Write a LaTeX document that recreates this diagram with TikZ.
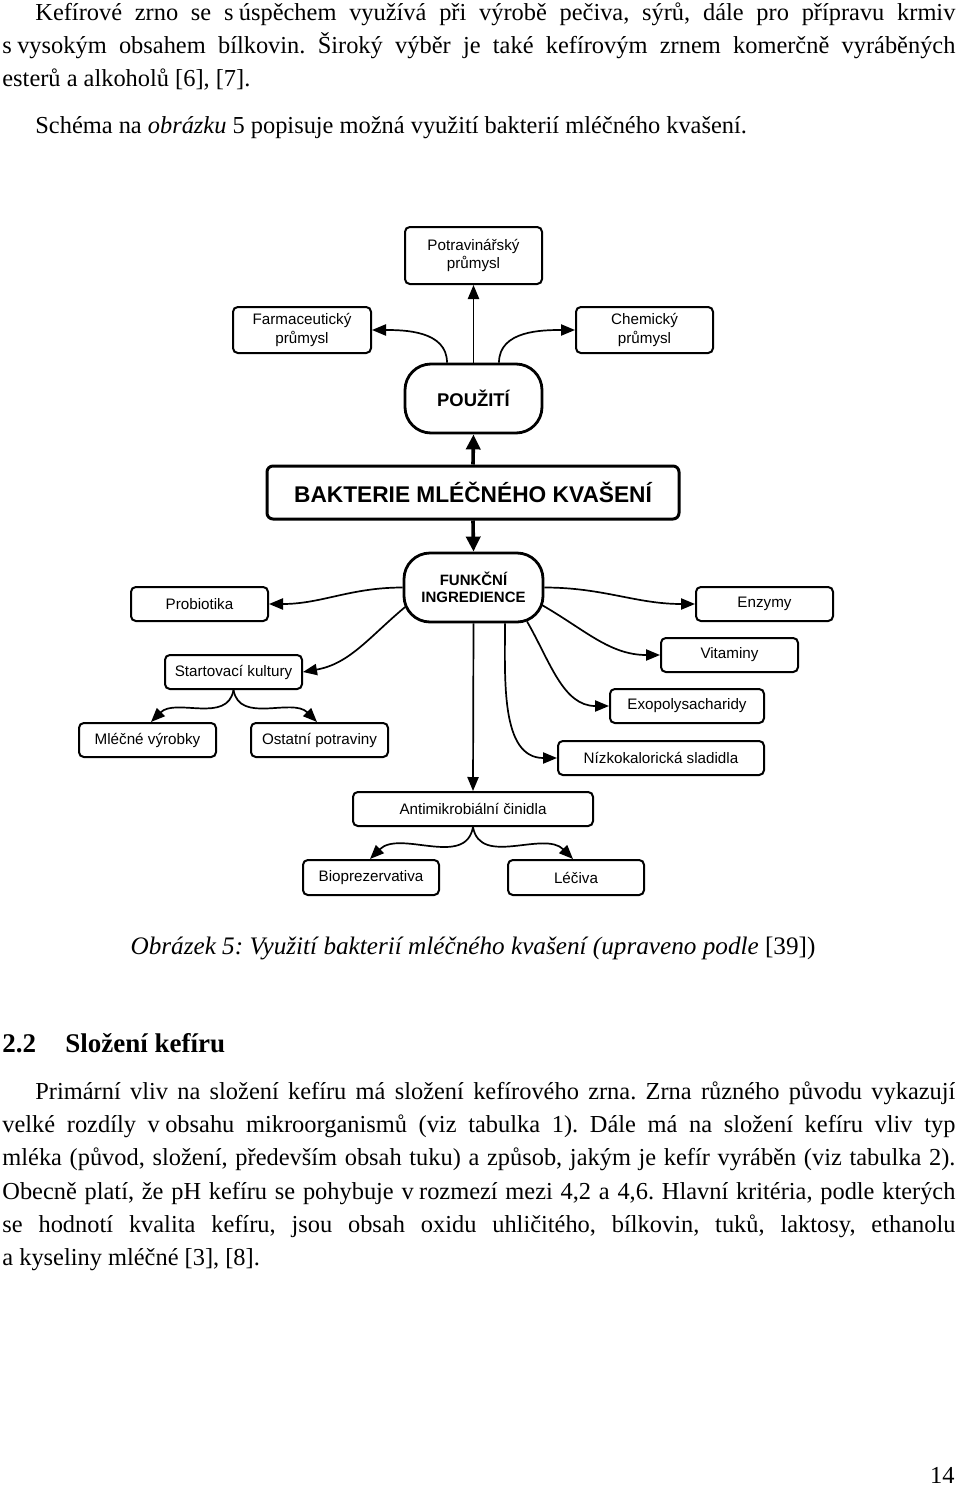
\documentclass[tikz,border=0pt]{standalone}
\usepackage{fontspec}
\setmainfont{Liberation Serif}
\newfontfamily\diagfont{Liberation Sans}
\usetikzlibrary{arrows.meta,calc}
\frenchspacing
\newsavebox\jbox
\newcommand\jline[2]{\sbox\jbox{#2}\ifdim\wd\jbox>#1\relax\resizebox{#1}{\height}{\usebox\jbox}\else\makebox[#1][s]{#2}\fi}
\begin{document}
\begin{tikzpicture}[x=0.5pt,y=-0.5pt,
  box/.style={draw, line width=1pt, rounded corners=2.4pt, align=center, inner sep=0pt,
    minimum height=17pt, font=\diagfont\fontsize{7.6}{9.3}\selectfont},
  stad/.style={draw, line width=1.4pt, rounded corners=13pt, align=center, inner sep=0pt,
    minimum width=68.5pt, minimum height=34.5pt},
  conn/.style={line width=0.85pt, -{Triangle[length=7pt,width=5.6pt]}},
  thickconn/.style={line width=1.8pt, -{Triangle[length=7.5pt,width=7pt]}},
  txt/.style={anchor=base west, inner sep=0pt, font=\fontsize{12.2}{14}\selectfont},
  headtxt/.style={anchor=base west, inner sep=0pt, font=\fontsize{13.5}{16}\selectfont\bfseries}
]
\fill[white] (0,0) rectangle (960,1488);
\useasboundingbox (0,0) rectangle (960,1488);

% top text
\node[txt] (t1) at (35,20) {\jline{460pt}{Kefírové zrno se s\hspace{0.22em}úspěchem využívá při výrobě pečiva, sýrů, dále pro přípravu krmiv}};
\node[txt] (t2) at (2,53) {\jline{476.5pt}{s\hspace{0.22em}vysokým obsahem bílkovin. Široký výběr je také kefírovým zrnem komerčně vyráběných}};
\node[txt] (t3) at (2,86) {esterů a alkoholů [6], [7].};
\node[txt] (t4) at (35,133) {Schéma na \textit{obrázku} 5 popisuje možná využití bakterií mléčného kvašení.};

% diagram nodes
\node[box, minimum width=68.5pt, minimum height=28.5pt] (pot) at (473.5,255.5) {Potravinářský\\průmysl};
\node[box, minimum width=69pt, minimum height=23pt] (farm) at (302,330) {Farmaceutický\\průmysl};
\node[box, minimum width=68.5pt, minimum height=23pt] (chem) at (644.5,330) {Chemický\\průmysl};
\node[stad, font=\diagfont\bfseries\fontsize{9.2}{11}\selectfont] (pouz) at (473.5,398.5) {POUŽITÍ};
\node[draw, line width=1.5pt, rounded corners=3pt, inner sep=0pt, minimum width=206pt, minimum height=26.5pt,
  font=\diagfont\bfseries\fontsize{11.35}{13}\selectfont] (bakt) at (473,492.5) {BAKTERIE MLÉČNÉHO KVAŠENÍ};
\node[stad, minimum width=69.5pt, font=\diagfont\bfseries\fontsize{7.5}{8.8}\selectfont] (funk) at (473.5,587.5) {FUNKČNÍ\\INGREDIENCE};
\node[box, minimum width=68.5pt] (prob) at (199.5,604) {Probiotika};
\node[box, minimum width=68.5pt] (enz) at (764.5,604) {Enzymy};
\node[box, minimum width=68.5pt] (start) at (233.5,672) {Startovací kultury};
\node[box, minimum width=68.5pt] (vit) at (729.5,655) {Vitaminy};
\node[box, minimum width=77pt] (exo) at (687,706) {Exopolysacharidy};
\node[box, minimum width=68.5pt] (mlec) at (147.5,740) {Mléčné výrobky};
\node[box, minimum width=68.5pt] (ostat) at (319.5,740) {Ostatní potraviny};
\node[box, minimum width=103pt] (nizk) at (661,758) {Nízkokalorická sladidla};
\node[box, minimum width=120pt] (anti) at (473,809) {Antimikrobiální činidla};
\node[box, minimum width=68pt, minimum height=17.5pt] (bio) at (371,877.5) {Bioprezervativa};
\node[box, minimum width=68pt, minimum height=17.5pt] (lec) at (576,877.5) {Léčiva};

% connectors
\draw[conn] (pouz.north) -- (pot.south);
\draw[conn] ($(pouz.north)+(-26.5,0)$) to[out=90,in=0] (farm.east);
\draw[conn] ($(pouz.north)+(25.5,0)$) to[out=90,in=180] (chem.west);
\draw[thickconn] (bakt.north) -- (pouz.south);
\draw[thickconn] (bakt.south) -- (funk.north);
\draw[conn] (funk.west) to[out=180,in=0] (prob.east);
\draw[conn] ($(funk.west)+(2.5,19.5)$) to[out=-140,in=10] (start.east);
\draw[conn] (start.south) to[out=-100,in=45] ($(mlec.north)+(3.5,0)$);
\draw[conn] (start.south) to[out=-80,in=135] ($(ostat.north)+(-2.5,0)$);
\draw[conn] (funk.east) to[out=0,in=180] (enz.west);
\draw[conn] ($(funk.east)+(-2.5,17.5)$) to[out=-30,in=180] (vit.west);
\draw[conn] ($(funk.south)+(53.5,-2)$) to[out=-60,in=180] (exo.west);
\draw[conn] ($(funk.south)+(31.5,0)$) to[out=-90,in=180] (nizk.west);
\draw[conn] (funk.south) -- (anti.north);
\draw[conn] (anti.south) to[out=-100,in=45] ($(bio.north)+(-1,0)$);
\draw[conn] (anti.south) to[out=-80,in=135] ($(lec.north)+(-3,0)$);

% caption and lower text
\node[anchor=base, inner sep=0pt, font=\fontsize{12.6}{14}\selectfont] (cap) at (473,954) {\textit{Obrázek 5: Využití bakterií mléčného kvašení (upraveno podle} [39])};
\node[headtxt] (h1) at (2,1052) {2.2};
\node[headtxt] (h2) at (65,1052) {Složení kefíru};
\node[txt] (p1) at (35,1099) {\jline{460pt}{Primární vliv na složení kefíru má složení kefírového zrna. Zrna různého původu vykazují}};
\node[txt] (p2) at (2,1132) {\jline{476.5pt}{velké rozdíly v\hspace{0.22em}obsahu mikroorganismů (viz tabulka 1). Dále má na složení kefíru vliv typ}};
\node[txt] (p3) at (2,1165) {\jline{476.5pt}{mléka (původ, složení, především obsah tuku) a způsob, jakým je kefír vyráběn (viz tabulka 2).}};
\node[txt] (p4) at (2,1199) {\jline{476.5pt}{Obecně platí, že pH kefíru se pohybuje v\hspace{0.22em}rozmezí mezi 4,2 a 4,6. Hlavní kritéria, podle kterých}};
\node[txt] (p5) at (2,1232) {\jline{476.5pt}{se hodnotí kvalita kefíru, jsou obsah oxidu uhličitého, bílkovin, tuků, laktosy, ethanolu}};
\node[txt] (p6) at (2,1265) {a kyseliny mléčné [3], [8].};
\node[anchor=base east, inner sep=0pt, font=\fontsize{12.2}{14}\selectfont] (pg) at (955,1483) {14};
\end{tikzpicture}
\end{document}
